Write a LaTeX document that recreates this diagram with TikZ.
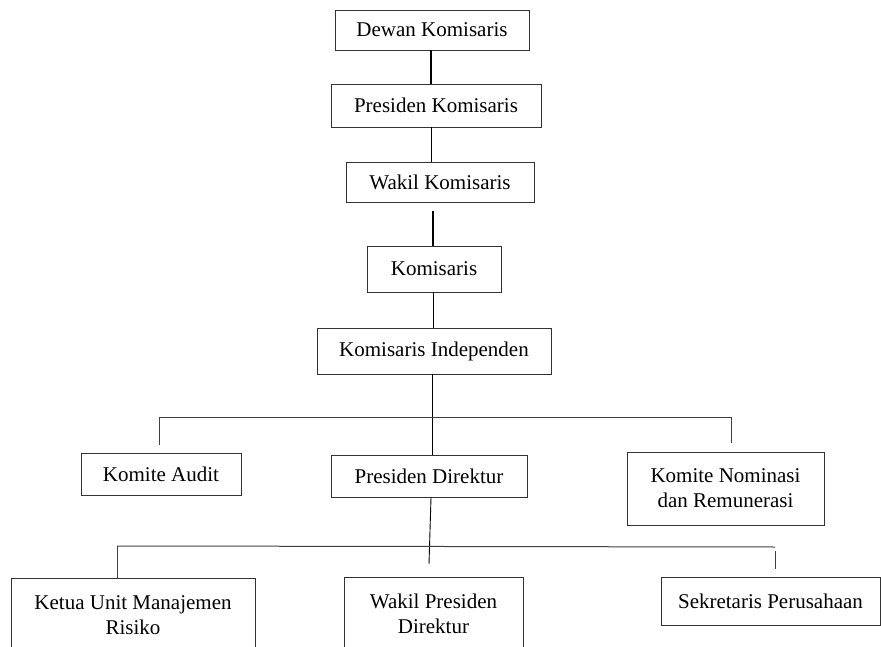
\documentclass[tikz,border=0pt]{standalone}
\usepackage{fontspec}
\setmainfont{Liberation Serif}
\begin{document}
\begin{tikzpicture}[x=1pt,y=-1pt,
  box/.style={draw=black!80,line width=0.9pt,inner sep=0pt,align=center,
    font=\fontsize{21}{25}\selectfont},
  link/.style={draw=black,line width=0.9pt},
  heavy/.style={draw=black,line width=2pt},
  bar/.style={draw=black!75,line width=1pt}]
\useasboundingbox (0,0) rectangle (881,647);
\clip (0,0) rectangle (881,647);

% board of commissioners
\node[box,minimum width=194pt,minimum height=40pt] (dewan)     at (432,30)    {Dewan Komisaris};
\node[box,minimum width=210pt,minimum height=43pt] (preskom)   at (436,105.5) {Presiden Komisaris};
\node[box,minimum width=188pt,minimum height=40pt] (wakilkom)  at (440,182)   {Wakil Komisaris};
\node[box,minimum width=134pt,minimum height=46pt] (komisaris) at (434,269)   {Komisaris};
\node[box,minimum width=234pt,minimum height=46pt] (indep)     at (434,351)   {Komisaris Independen};

% committees and president director
\node[box,minimum width=160pt,minimum height=42pt] (audit)    at (161,474)   {Komite Audit};
\node[box,minimum width=196pt,minimum height=42pt] (presdir)  at (429,476)   {Presiden Direktur};
\node[box,minimum width=197pt,minimum height=73pt] (nominasi) at (725.5,488.5) {Komite Nominasi\\dan Remunerasi};

% directorate level
\node[box,minimum width=244pt,minimum height=75pt] (ketua)      at (133,615.5) {Ketua Unit Manajemen\\Risiko};
\node[box,minimum width=179pt,minimum height=74pt] (wakilpres)  at (433.5,614) {Wakil Presiden\\Direktur};
\node[box,minimum width=219pt,minimum height=48pt] (sekretaris) at (770.5,601) {Sekretaris Perusahaan};

% vertical spine
\coordinate (xa) at (431,0);
\coordinate (xb) at (433,0);
\coordinate (xc) at (432,0);
\coordinate (xd) at (431,0);
\draw[heavy] (dewan.south -| xa) -- (preskom.north -| xa);
\draw[link]  (preskom.south -| xa) -- (wakilkom.north -| xa);
\draw[heavy,shorten <=9pt] (wakilkom.south -| xb) -- (komisaris.north -| xb);
\draw[link]  (komisaris.south -| xb) -- (indep.north -| xb);
\draw[link]  (indep.south -| xc) -- (presdir.north -| xc);

% committee bar
\coordinate (barL) at (159,417);
\coordinate (barR) at (731,417);
\draw[bar] (barL) -- (barR);
\draw[bar,shorten >=8pt] (barL) -- (barL |- audit.north);
\draw[bar,shorten >=9pt] (barR) -- (barR |- nominasi.north);

% directorate bar
\coordinate (tail) at (429,564);
\draw[link] (presdir.south -| xd) -- (tail);
\coordinate (lowL) at (117,546);
\coordinate (lowR) at (775,547);
\draw[bar] (lowL) -- (lowR);
\draw[bar] (lowL) -- (lowL |- ketua.north);
\draw[bar,shorten <=4pt,shorten >=8pt] (lowR) -- (lowR |- sekretaris.north);
\end{tikzpicture}
\end{document}
